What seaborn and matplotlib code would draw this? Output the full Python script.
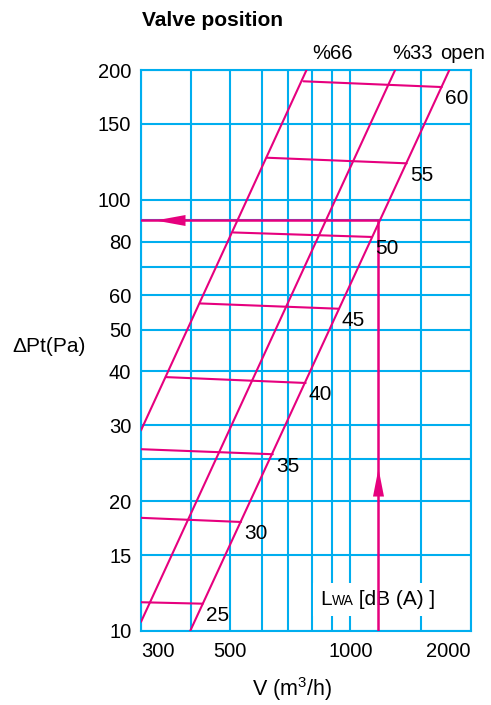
import matplotlib
matplotlib.use("Agg")
import numpy as np
import pandas as pd
import matplotlib.pyplot as plt
import seaborn as sns
from matplotlib.ticker import NullFormatter
from matplotlib.offsetbox import TextArea, HPacker, AnnotationBbox

# ---------------- data ----------------
x_ticks_major = [300, 500, 1000, 2000]
x_tick_labels = ["300", "500", "1000", "2000"]
x_ticks_minor = [400, 600, 700, 800, 900, 1500]
y_ticks_major = [10, 15, 20, 30, 40, 50, 60, 80, 100, 150, 200]
y_tick_labels = ["10", "15", "20", "30", "40", "50", "60", "80", "100", "150", "200"]
y_ticks_minor = [25, 70, 90]

valve_names = ["%66", "%33", "open"]
valve_V = [[300, 777], [300, 1293], [398, 1766]]
valve_dP = [[29.2, 200], [10.5, 200], [10, 200]]
valve_label_V = [900, 1430, 1910]

db_levels = [25, 30, 35, 40, 45, 50, 55, 60]
db_V_left = [300, 300, 300, 346, 421, 510, 618, 763]
db_V_right = [428, 533, 640, 773, 933, 1130, 1382, 1690]
db_dP_left = [11.66, 18.3, 26.4, 38.8, 57.5, 84.0, 125.2, 188.3]
db_dP_right = [11.57, 17.9, 25.7, 37.6, 55.9, 82.0, 121.5, 182.6]

example_V = [1170, 1170, 300]
example_dP = [10, 90, 90]
arrow_up_pos = (1170, 22.1)
arrow_left_pos = (354, 90)
lwa_label_pos = (1170, 11.85)

CYAN = "#00aeef"
MAGENTA = "#e6007e"

# ---------------- style ----------------
sns.set_style("white")
plt.rcParams["font.family"] = ["Liberation Sans", "DejaVu Sans"]
plt.rcParams["mathtext.fontset"] = "custom"
plt.rcParams["mathtext.rm"] = "Liberation Sans"
plt.rcParams["mathtext.it"] = "Liberation Sans:italic"
plt.rcParams["mathtext.bf"] = "Liberation Sans:bold"
for k in ["text.color", "axes.labelcolor", "xtick.color", "ytick.color"]:
    plt.rcParams[k] = "black"

fig = plt.figure(figsize=(4.91, 7.05), dpi=100)
ax = fig.add_axes([141 / 491, 1 - 631 / 705, 330 / 491, 561 / 705])
ax.set_xscale("log")
ax.set_yscale("log")

# ---------------- lines via seaborn ----------------
rows = []
for name, vv, pp in zip(valve_names, valve_V, valve_dP):
    for v, p in zip(vv, pp):
        rows.append(dict(seg="valve " + name, V=v, dP=p))
for lev, v0, v1, p0, p1 in zip(db_levels, db_V_left, db_V_right, db_dP_left, db_dP_right):
    rows.append(dict(seg=f"db {lev}", V=v0, dP=p0))
    rows.append(dict(seg=f"db {lev}", V=v1, dP=p1))
df = pd.DataFrame(rows)
sns.lineplot(data=df, x="V", y="dP", units="seg", estimator=None, sort=False,
             color=MAGENTA, linewidth=1.5, ax=ax, zorder=3)

df_ex = pd.DataFrame(dict(seg="example", V=example_V, dP=example_dP))
sns.lineplot(data=df_ex, x="V", y="dP", units="seg", estimator=None, sort=False,
             color=MAGENTA, linewidth=1.8, ax=ax, zorder=3)

# arrowheads
up_marker = [(-0.196, -0.5), (0.196, -0.5), (0, 0.5)]
left_marker = [(0.5, -0.183), (0.5, 0.183), (-0.5, 0)]
ax.plot([arrow_up_pos[0]], [arrow_up_pos[1]], marker=up_marker, markersize=20.2,
        color=MAGENTA, markeredgewidth=0, linestyle="none", zorder=4)
ax.plot([arrow_left_pos[0]], [arrow_left_pos[1]], marker=left_marker, markersize=21.6,
        color=MAGENTA, markeredgewidth=0, linestyle="none", zorder=4)

# ---------------- axes ----------------
ax.set_xlim(300, 2000)
ax.set_ylim(10, 200)
ax.set_xticks(x_ticks_major)
ax.set_xticklabels(x_tick_labels)
ax.set_xticks(x_ticks_minor, minor=True)
ax.set_yticks(y_ticks_major)
ax.set_yticklabels(y_tick_labels)
ax.set_yticks(y_ticks_minor, minor=True)
ax.xaxis.set_minor_formatter(NullFormatter())
ax.yaxis.set_minor_formatter(NullFormatter())
ax.tick_params(which="both", length=0)
ax.tick_params(axis="x", labelsize=14.5, pad=8)
ax.tick_params(axis="y", labelsize=14.5, pad=7)
xl = ax.get_xticklabels()
xl[0].set_horizontalalignment("left")
xl[-1].set_horizontalalignment("right")

ax.set_axisbelow(True)
ax.grid(True, which="both", color=CYAN, linewidth=1.5)
for s in ax.spines.values():
    s.set_color(CYAN)
    s.set_linewidth(1.5)

ax.set_xlabel("V (m$^3$/h)", fontsize=15.5)
ax.xaxis.set_label_coords((291.7 - 141) / 330, (631 - 689) / 561)
ax.xaxis.label.set_verticalalignment("center")
ax.set_ylabel("ΔPt(Pa)", fontsize=15, rotation=0, ha="left", va="center")
ax.yaxis.set_label_coords((12 - 141) / 330, (631 - 346.7) / 561)

# ---------------- texts ----------------
fig.text(142 / 491, 1 - 20 / 705, "Valve position", fontsize=15, fontweight="bold",
         ha="left", va="center")
for name, v in zip(valve_names, valve_label_V):
    ax.annotate(name, xy=(v, 200), xytext=(0, 12.2), textcoords="offset points",
                ha="center", va="center", fontsize=14.5, annotation_clip=False)
for lev, v, p in zip(db_levels, db_V_right, db_dP_right):
    ax.annotate(str(lev), xy=(v, p), xytext=(10.8, -8.6), textcoords="offset points",
                ha="center", va="center", fontsize=15)

box = HPacker(children=[TextArea("L", textprops=dict(fontsize=15)),
                        TextArea("WA", textprops=dict(fontsize=10)),
                        TextArea(" [dB (A) ]", textprops=dict(fontsize=15))],
              align="baseline", pad=0, sep=0)
ab = AnnotationBbox(box, lwa_label_pos, frameon=True, pad=0.5,
                    bboxprops=dict(facecolor="white", edgecolor="none"), zorder=1.5)
ax.add_artist(ab)

fig.savefig("out.png", dpi=100)
